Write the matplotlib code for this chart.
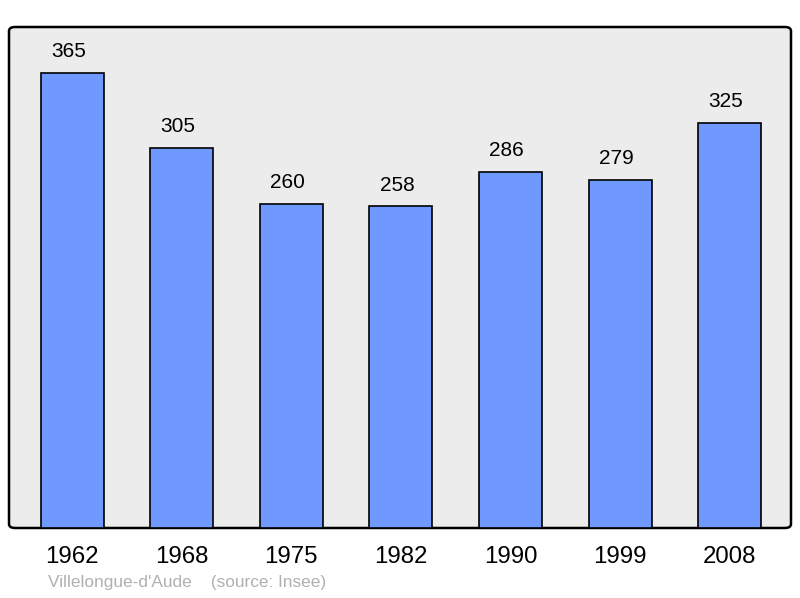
import matplotlib.pyplot as plt
from matplotlib.patches import FancyBboxPatch

years = ["1962", "1968", "1975", "1982", "1990", "1999", "2008"]
population = [365, 305, 260, 258, 286, 279, 325]

plt.rcParams['font.family'] = ['Liberation Sans', 'DejaVu Sans']

fig = plt.figure(figsize=(8, 5.98), dpi=100)
ax = fig.add_axes([9 / 800, 70 / 598, 782 / 800, 501 / 598])
ax.set_facecolor('none')
for s in ax.spines.values():
    s.set_visible(False)

# rounded background box
bg = FancyBboxPatch((0, 0), 1, 1, boxstyle="round,pad=0,rounding_size=0.008",
                    transform=ax.transAxes, facecolor='#ececec', edgecolor='black',
                    linewidth=1.8, zorder=0, clip_on=False)
ax.add_patch(bg)

x = range(len(years))
bars = ax.bar(x, population, width=0.575, color='#7099ff', edgecolor='black',
              linewidth=1.2, zorder=2)

# value labels sit a little left of the bar centre in the original
for xi, v in zip(x, population):
    ax.annotate(str(v), (xi, v), xytext=(-2.6, 8.5), textcoords='offset points',
                ha='center', va='bottom', fontsize=15, color='black')

ax.set_xlim(-0.575, 6.56)
ax.set_ylim(0, 402)
ax.set_xticks(list(x))
ax.set_xticklabels(years, fontsize=17.3)
ax.tick_params(axis='x', length=0, pad=13.3)
ax.set_yticks([])

fig.text(48 / 800, 1 - 583 / 598, "Villelongue-d'Aude    (source: Insee)",
         fontsize=12.4, color='#b0b0b0', ha='left', va='center')

fig.savefig("out.png", dpi=100)
